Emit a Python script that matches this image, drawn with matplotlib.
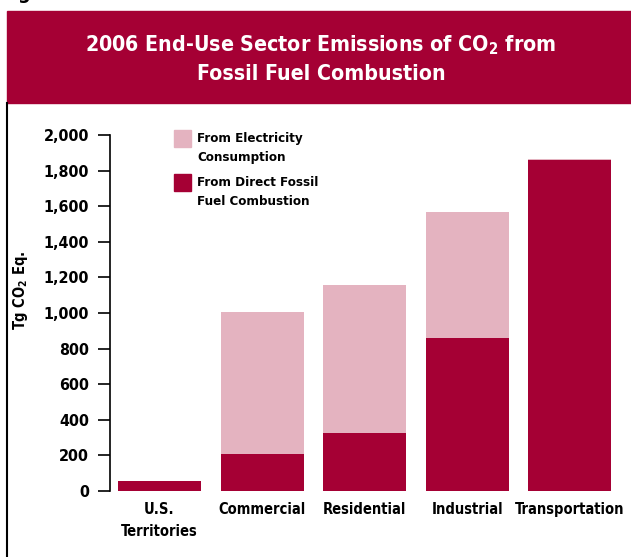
import matplotlib
matplotlib.use('Agg')
import matplotlib.pyplot as plt
from matplotlib.patches import Rectangle
from matplotlib.lines import Line2D
from matplotlib.ticker import FuncFormatter

# dados (Tg CO2 Eq.)
sectors = ['U.S.\nTerritories', 'Commercial', 'Residential', 'Industrial', 'Transportation']
direct_fossil = [55, 210, 326, 862, 1858]
electricity = [0, 798, 832, 705, 5]
yticks = [0, 200, 400, 600, 800, 1000, 1200, 1400, 1600, 1800, 2000]

dark = '#A50034'
pink = '#E4B3C0'

plt.rcParams['font.family'] = ['DejaVu Sans']
plt.rcParams['font.stretch'] = 'condensed'
plt.rcParams['font.weight'] = 'bold'
plt.rcParams['mathtext.fontset'] = 'custom'
plt.rcParams['mathtext.rm'] = 'DejaVu Sans:bold:stretch=condensed'
plt.rcParams['mathtext.bf'] = 'DejaVu Sans:bold:stretch=condensed'
plt.rcParams['mathtext.it'] = 'DejaVu Sans:bold:stretch=condensed'
plt.rcParams['mathtext.default'] = 'rm'

W, H = 631, 557
fig = plt.figure(figsize=(W / 100, H / 100), dpi=100)

# faixa vermelha do título
fig.patches.append(Rectangle((7 / W, 1 - 103 / H), 1 - 7 / W, 92 / H,
                             transform=fig.transFigure, color=dark, zorder=0))
fig.text(321 / W, 1 - 45 / H, '2006 End-Use Sector Emissions of CO$_2$ from',
         ha='center', va='center', color='white', fontsize=15.3)
fig.text(321 / W, 1 - 74 / H, 'Fossil Fuel Combustion',
         ha='center', va='center', color='white', fontsize=15.3)
# texto cortado no topo
fig.text(0.0, 1 - 3 / H, 'Figure 3-7', ha='left', va='bottom', fontsize=14, color='black')
# borda esquerda
fig.lines.append(Line2D([7 / W, 7 / W], [0, 1 - 103 / H], transform=fig.transFigure,
                        color='black', lw=1.5))

# eixo
left, right = 110, 620
bottom, top = 491, 135
ax = fig.add_axes([left / W, 1 - bottom / H, (right - left) / W, (bottom - top) / H])
x = range(len(sectors))
ax.bar(x, direct_fossil, width=0.81, color=dark)
ax.bar(x, electricity, width=0.81, bottom=direct_fossil, color=pink)
ax.set_xlim((left - 159.5) / 102.6, (right - 159.5) / 102.6)
ax.set_ylim(0, 2000)
ax.set_yticks(yticks)
ax.yaxis.set_major_formatter(FuncFormatter(lambda v, p: f'{int(v):,}'))
ax.set_xticks(list(x))
ax.set_xticklabels(sectors, fontsize=10.5, linespacing=1.55)
ax.tick_params(axis='x', length=0, pad=8)
ax.tick_params(axis='y', length=9, width=1.2, labelsize=11.5, pad=6)
for s in ['top', 'right', 'bottom']:
    ax.spines[s].set_visible(False)
ax.spines['left'].set_linewidth(1.2)
ax.set_ylabel('Tg CO$_2$ Eq.', fontsize=10.5, fontweight='bold')
ax.yaxis.set_label_coords((30 - left) / (right - left), 0.565)

# legenda manual
for yy, col, txt in [(130, pink, 'From Electricity\nConsumption'),
                     (174, dark, 'From Direct Fossil\nFuel Combustion')]:
    fig.patches.append(Rectangle((174 / W, 1 - (yy + 17) / H), 17 / W, 17 / H,
                                 transform=fig.transFigure, color=col))
    fig.text(197 / W, 1 - (yy + 18) / H, txt, ha='left', va='center', fontsize=9.5,
             linespacing=1.6)

fig.savefig('out.png', dpi=100)
